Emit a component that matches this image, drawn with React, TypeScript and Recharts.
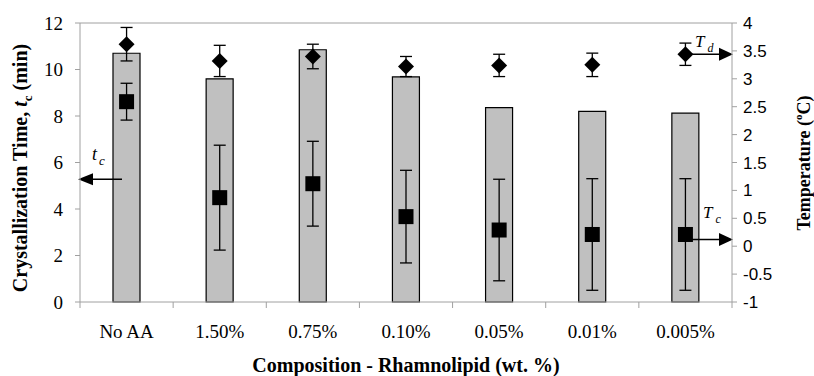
import React from 'react';
import { ComposedChart, Bar, Line, XAxis, YAxis, ErrorBar, ReferenceLine } from 'recharts';

const categories = ['No AA', '1.50%', '0.75%', '0.10%', '0.05%', '0.01%', '0.005%'];
const crystTime = [10.7, 9.6, 10.85, 9.68, 8.36, 8.2, 8.12];
const tcTemp = [2.59, 0.87, 1.12, 0.53, 0.29, 0.21, 0.21];
const tcTempErr = [0.33, 0.94, 0.76, 0.83, 0.91, 1.0, 1.0];
const tdTemp = [3.62, 3.32, 3.4, 3.22, 3.24, 3.25, 3.44];
const tdTempErr = [0.3, 0.28, 0.22, 0.18, 0.2, 0.21, 0.2];
const leftTicks = [0, 2, 4, 6, 8, 10, 12];
const rightTicks = [-1, -0.5, 0, 0.5, 1, 1.5, 2, 2.5, 3, 3.5, 4];
const tcArrowLevel = 5.28;
const tdArrowLevel = 3.44;
const tcTempArrowLevel = 0.12;

const data = categories.map((c, i) => ({
  cat: c,
  time: crystTime[i],
  tc: tcTemp[i],
  tcErr: tcTempErr[i],
  td: tdTemp[i],
  tdErr: tdTempErr[i],
}));

const SERIF = "'Liberation Serif', 'Times New Roman', serif";
const SANS = "'Liberation Sans', Arial, sans-serif";
const GREY = '#a0a0a0';

const SquareDot = (props: any) => {
  const { cx, cy } = props;
  if (cx == null || cy == null) return null;
  return <rect x={cx - 7.5} y={cy - 7.5} width={15} height={15} fill="#000" />;
};

const DiamondDot = (props: any) => {
  const { cx, cy } = props;
  if (cx == null || cy == null) return null;
  const r = 8;
  return <path d={`M${cx},${cy - r} L${cx + r},${cy} L${cx},${cy + r} L${cx - r},${cy} Z`} fill="#000" />;
};

const XTick = (props: any) => {
  const { x, y, payload, width, visibleTicksCount, index } = props;
  const half = payload && payload.offset != null && payload.offset > 0 ? payload.offset : width / visibleTicksCount / 2;
  return (
    <g>
      <line x1={x - half} x2={x - half} y1={y - 6} y2={y} stroke={GREY} />
      {index === visibleTicksCount - 1 && <line x1={x + half} x2={x + half} y1={y - 6} y2={y} stroke={GREY} />}
      <text x={x} y={y + 30} textAnchor="middle" fontFamily={SERIF} fontSize={19} fill="#000">
        {payload.value}
      </text>
    </g>
  );
};

const LeftArrow = (props: any) => {
  const { x1, x2, y1 } = props;
  const xl = Math.min(x1, x2);
  const y = y1;
  return (
    <g>
      <line x1={xl + 13} x2={xl + 42} y1={y} y2={y} stroke="#000" strokeWidth={1.5} />
      <path d={`M${xl - 2},${y} L${xl + 13},${y - 6} L${xl + 13},${y + 6} Z`} fill="#000" />
      <text x={xl + 12} y={y - 19} fontFamily={SERIF} fontStyle="italic" fontSize={18} fill="#000">
        t<tspan fontSize={13} dx={2} dy={5}>c</tspan>
      </text>
    </g>
  );
};

const makeRightArrow = (start: number, sub: string, labelDx: number, labelDy: number) => (props: any) => {
  const { x1, x2, y1 } = props;
  const xr = Math.max(x1, x2);
  const y = y1;
  return (
    <g>
      <line x1={xr - start} x2={xr - 13} y1={y} y2={y} stroke="#000" strokeWidth={1.5} />
      <path d={`M${xr + 1},${y} L${xr - 13},${y - 6.5} L${xr - 13},${y + 6.5} Z`} fill="#000" />
      <text x={xr - labelDx} y={y - labelDy} fontFamily={SERIF} fontStyle="italic" fontSize={17} fill="#000">
        T<tspan fontSize={12} dx={3} dy={5}>{sub}</tspan>
      </text>
    </g>
  );
};

const TdArrow = makeRightArrow(47, 'd', 37, 7);
const TcArrow = makeRightArrow(42, 'c', 29, 22);

const LeftTitle = () => (
  <text transform="translate(27,168) rotate(-90)" textAnchor="middle" fontFamily={SERIF} fontWeight="bold" fontSize={20} fill="#000">
    Crystallization Time, <tspan fontStyle="italic">t</tspan>
    <tspan fontSize={13} dy={5}>c</tspan>
    <tspan dy={-5}> (min)</tspan>
  </text>
);

const RightTitle = () => (
  <text transform="translate(810,163) rotate(-90)" textAnchor="middle" fontFamily={SERIF} fontWeight="bold" fontSize={18} fill="#000">
    Temperature (<tspan fontSize={11} dy={-8}>o</tspan>
    <tspan dy={8}>C)</tspan>
  </text>
);

const BottomTitle = () => (
  <text x={406} y={372} textAnchor="middle" fontFamily={SERIF} fontWeight="bold" fontSize={20} fill="#000">
    Composition - Rhamnolipid (wt. %)
  </text>
);

export default function App() {
  return (
    <div style={{ position: 'absolute', left: 0, top: 0, width: 814, height: 376, background: '#fff' }}>
      <ComposedChart width={814} height={376} data={data} margin={{ top: 23, right: 0, bottom: 0, left: 0 }}>
        <XAxis
          dataKey="cat"
          height={74}
          axisLine={{ stroke: GREY }}
          tickLine={false}
          tickSize={6}
          tickMargin={0}
          interval={0}
          tick={<XTick />}
          label={{ content: () => <BottomTitle /> }}
        />
        <YAxis
          yAxisId="left"
          orientation="left"
          width={80}
          domain={[0, 12]}
          ticks={leftTicks}
          axisLine={{ stroke: GREY }}
          tickLine={{ stroke: GREY }}
          tickSize={5}
          tickMargin={12}
          tick={{ fontFamily: SERIF, fontSize: 19, fill: '#000' }}
          label={{ content: () => <LeftTitle /> }}
        />
        <YAxis
          yAxisId="right"
          orientation="right"
          width={82}
          domain={[-1, 4]}
          ticks={rightTicks}
          axisLine={{ stroke: GREY }}
          tickLine={{ stroke: GREY }}
          tickSize={5}
          tickMargin={6}
          tick={{ fontFamily: SANS, fontSize: 17, fill: '#000' }}
          label={{ content: () => <RightTitle /> }}
        />
        <ReferenceLine yAxisId="left" y={12} stroke={GREY} />
        <Bar yAxisId="left" dataKey="time" barSize={27} fill="#c0c0c0" stroke="#000" strokeWidth={1.2} isAnimationActive={false} />
        <Line yAxisId="right" dataKey="tc" stroke="none" dot={<SquareDot />} activeDot={false} isAnimationActive={false}>
          <ErrorBar dataKey="tcErr" direction="y" width={6} stroke="#000" strokeWidth={1.3} />
        </Line>
        <Line yAxisId="right" dataKey="td" stroke="none" dot={<DiamondDot />} activeDot={false} isAnimationActive={false}>
          <ErrorBar dataKey="tdErr" direction="y" width={6} stroke="#000" strokeWidth={1.3} />
        </Line>
        <ReferenceLine yAxisId="left" y={tcArrowLevel} shape={LeftArrow} />
        <ReferenceLine yAxisId="right" y={tdArrowLevel} shape={TdArrow} />
        <ReferenceLine yAxisId="right" y={tcTempArrowLevel} shape={TcArrow} />
      </ComposedChart>
    </div>
  );
}
